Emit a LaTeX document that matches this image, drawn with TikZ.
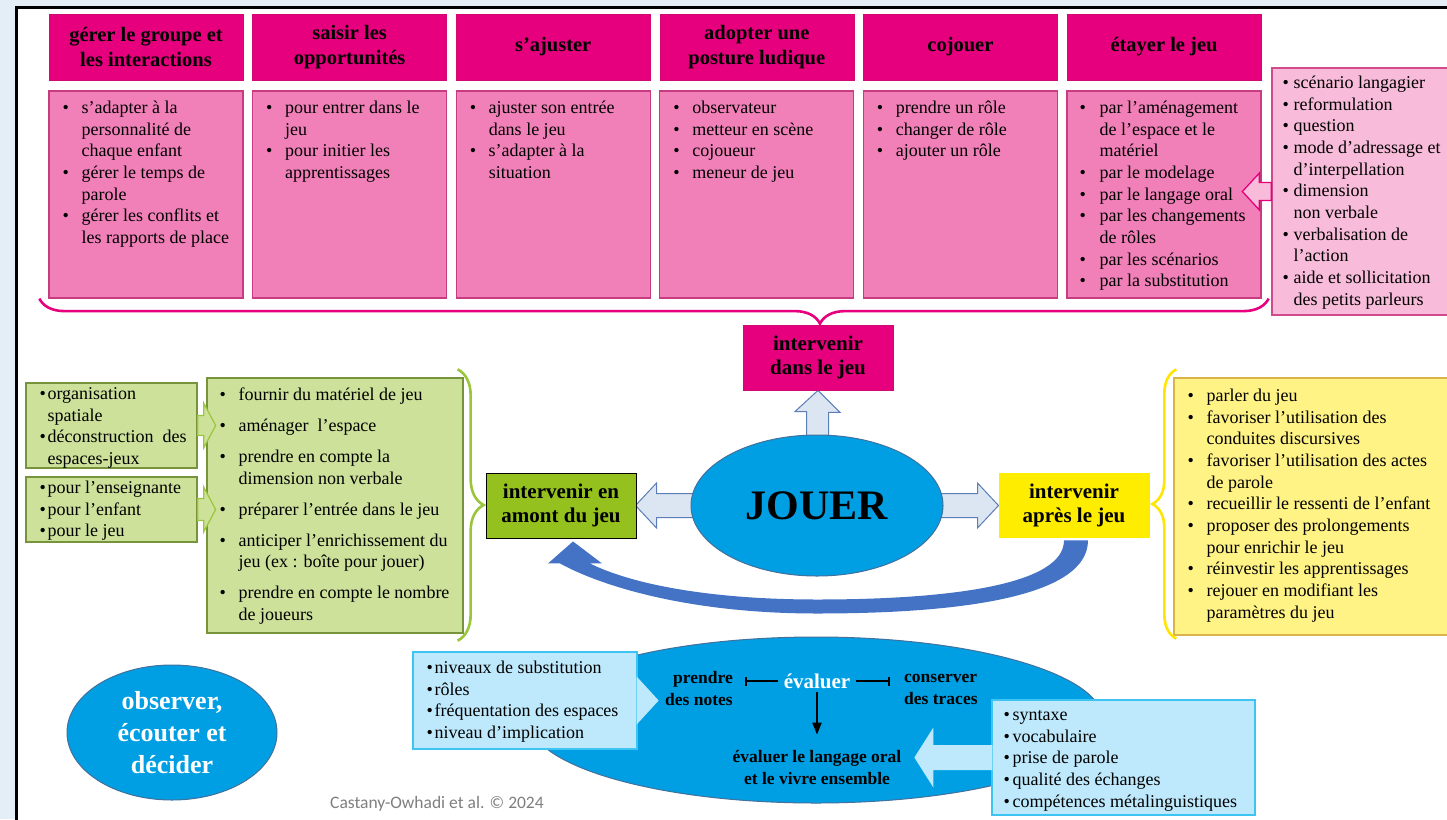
\documentclass[tikz,border=0pt]{standalone}
\usepackage{fontspec}
\setmainfont{Liberation Serif}
\newfontfamily\creditfont{Carlito}
\usepackage{tikz}
\usetikzlibrary{arrows.meta,positioning,decorations.pathreplacing,calc,shapes.geometric}
\usepackage{xcolor}
\definecolor{magF}{HTML}{E6007E}
\definecolor{magD}{HTML}{CF0A72}
\definecolor{pinkF}{HTML}{F180B9}
\definecolor{pinkB}{HTML}{C73B80}
\definecolor{pinkL}{HTML}{F8BCDA}
\definecolor{pinkLB}{HTML}{D14A8E}
\definecolor{greenD}{HTML}{95C11F}
\definecolor{greenL}{HTML}{CDE19B}
\definecolor{greenB}{HTML}{77933C}
\definecolor{greenBr}{HTML}{9BC53A}
\definecolor{yelD}{HTML}{FFED00}
\definecolor{yelL}{HTML}{FFF385}
\definecolor{yelB}{HTML}{D9B44A}
\definecolor{yelBr}{HTML}{FFE500}
\definecolor{blueE}{HTML}{009FE3}
\definecolor{blueB}{HTML}{41719C}
\definecolor{arrL}{HTML}{DCE6F2}
\definecolor{arrB}{HTML}{5B7DB8}
\definecolor{curvBlue}{HTML}{4472C4}
\definecolor{lblueF}{HTML}{BEE9FC}
\definecolor{lblueB}{HTML}{3DC4F2}
\definecolor{bgBlue}{HTML}{E3EEF7}
\definecolor{creditGray}{HTML}{7F7F7F}

\pgfdeclarelayer{back}
\pgfdeclarelayer{mid}
\pgfsetlayers{back,mid,main}

\newcommand{\bul}[2][19pt]{\par\hangindent=#1\hangafter=1\noindent\makebox[#1][l]{\textbullet}#2\par}
\newcommand{\blist}[2][270pt]{\parbox[t]{#1}{\raggedright#2}}
\newcommand{\harrow}[6]{\draw[#1] (#2) ++(0,-#5) -- ++(#3,0) -- ++(0,{#5-#6}) -- ++(#4,#6) -- ++({-(#4)},#6) -- ++(0,{#5-#6}) -- ++({-(#3)},0) -- cycle;}

\tikzset{
  headbox/.style={draw=magD, line width=0.6pt, fill=magF, minimum width=194pt, minimum height=66pt, inner sep=1pt, align=center, font=\fontsize{20.5}{25}\selectfont\bfseries},
  bodybox/.style={draw=pinkB, line width=1.3pt, fill=pinkF, minimum width=194pt, minimum height=207pt},
  listtext/.style={anchor=base west, inner sep=0pt, font=\fontsize{18}{21.7}\selectfont},
  sidebox/.style={draw=pinkLB, line width=1.3pt, fill=pinkL, minimum width=185pt, minimum height=247pt},
  dansbox/.style={draw=magD, line width=0.8pt, fill=magF, minimum width=150pt, minimum height=65pt, align=center, font=\fontsize{21}{24}\selectfont\bfseries},
  amontbox/.style={draw=black, line width=0.9pt, fill=greenD, minimum width=150pt, minimum height=65pt, align=center, font=\fontsize{21}{24}\selectfont\bfseries},
  apresbox/.style={draw=yelD, line width=0.8pt, fill=yelD, minimum width=150pt, minimum height=64pt, align=center, font=\fontsize{21}{24}\selectfont\bfseries},
  jouerell/.style={ellipse, draw=blueB, line width=1pt, fill=blueE, minimum width=252pt, minimum height=141pt, inner sep=0pt, font=\fontsize{42}{48}\selectfont\bfseries},
  greenbox/.style={draw=greenB, line width=1.3pt, fill=greenL, minimum width=256pt, minimum height=255pt},
  smallgreen/.style={draw=greenB, line width=1.3pt, fill=greenL, minimum width=171pt},
  yelbox/.style={draw=yelB, line width=1.3pt, fill=yelL, minimum width=280pt, minimum height=257pt},
  bigell/.style={ellipse, draw=blueB, line width=1pt, fill=blueE, minimum width=574pt, minimum height=166pt, inner sep=0pt},
  obsell/.style={ellipse, draw=blueB, line width=1pt, fill=blueE, minimum width=210pt, minimum height=135pt, inner sep=0pt, align=center, text=white, font=\fontsize{26}{32}\selectfont\bfseries},
  lbluebox/.style={draw=lblueB, line width=1.3pt, fill=lblueF},
  evaltext/.style={inner sep=0pt, text=white, font=\fontsize{21}{24}\selectfont\bfseries},
  notetext/.style={inner sep=0pt, font=\fontsize{17.5}{22}\selectfont\bfseries},
  credit/.style={inner sep=0pt, text=creditGray, font=\creditfont\fontsize{17.5}{20}\selectfont},
  lightarrow/.style={draw=arrB, line width=1pt, fill=arrL, line join=miter},
  pinkarrow/.style={draw=magF, line width=1.3pt, fill=pinkL},
  greenarrow/.style={draw=greenBr, line width=1.2pt, fill=greenL},
  lbluefill/.style={draw=none, fill=lblueF},
  curvarrow/.style={fill=curvBlue},
  evline/.style={line width=1.8pt, black},
  pinkbrace/.style={draw=magF, line width=2.6pt, decorate, decoration={brace, amplitude=25pt, aspect=0.635, mirror}},
  greenbrace/.style={draw=greenBr, line width=2.6pt, decorate, decoration={brace, amplitude=26pt, aspect=0.5}},
  yelbrace/.style={draw=yelBr, line width=2.6pt, decorate, decoration={brace, amplitude=24pt, aspect=0.5, mirror}}
}

\begin{document}
\begin{tikzpicture}[x=1pt, y=-1pt]
\useasboundingbox (0,0) rectangle (1447,819);
\clip (0,0) rectangle (1447,819);
\begin{pgfonlayer}{back}
  \fill[bgBlue] (0,0) rectangle (1447,819);
  \draw[line width=2.6pt, fill=white] (16.5,7.5) rectangle (1480,850);
\end{pgfonlayer}

\node[headbox] (h1) at (146,47) {gérer le groupe et\\les interactions};
\node[headbox, right=9pt of h1] (h2) {saisir les\\opportunités};
\node[headbox, right=9pt of h2] (h3) {s’ajuster};
\node[headbox, right=9pt of h3] (h4) {adopter une\\posture ludique};
\node[headbox, right=9pt of h4] (h5) {cojouer};
\node[headbox, right=9pt of h5] (h6) {étayer le jeu};

\node[bodybox, below=10pt of h1] (b1) {};
\node[bodybox, below=10pt of h2] (b2) {};
\node[bodybox, below=10pt of h3] (b3) {};
\node[bodybox, below=10pt of h4] (b4) {};
\node[bodybox, below=10pt of h5] (b5) {};
\node[bodybox, below=10pt of h6] (b6) {};

\node[listtext] (l1) at ($(b1.north west)+(14,23)$) {\blist{\bul{s’adapter à la\newline personnalité de\newline chaque enfant}\bul{gérer le temps de\newline parole}\bul{gérer les conflits et\newline les rapports de place}}};
\node[listtext] (l2) at ($(b2.north west)+(14,23)$) {\blist{\bul{pour entrer dans le\newline jeu}\bul{pour initier les\newline apprentissages}}};
\node[listtext] (l3) at ($(b3.north west)+(14,23)$) {\blist{\bul{ajuster son entrée\newline dans le jeu}\bul{s’adapter à la\newline situation}}};
\node[listtext] (l4) at ($(b4.north west)+(14,23)$) {\blist{\bul{observateur}\bul{metteur en scène}\bul{cojoueur}\bul{meneur de jeu}}};
\node[listtext] (l5) at ($(b5.north west)+(14,23)$) {\blist{\bul{prendre un rôle}\bul{changer de rôle}\bul{ajouter un rôle}}};
\node[listtext] (l6) at ($(b6.north west)+(13,23)$) {\blist{\bul[20pt]{par l’aménagement\newline de l’espace et le\newline matériel}\bul[20pt]{par le modelage}\bul[20pt]{par le langage oral}\bul[20pt]{par les changements\newline de rôles}\bul[20pt]{par les scénarios}\bul[20pt]{par la substitution}}};

\node[sidebox] (side) at (1364.5,191.5) {};
\node[listtext] (lside) at ($(side.north west)+(11,21)$) {\blist{\bul[11pt]{scénario langagier}\bul[11pt]{reformulation}\bul[11pt]{question}\bul[11pt]{mode d’adressage et\newline d’interpellation}\bul[11pt]{dimension\newline non verbale}\bul[11pt]{verbalisation de\newline l’action}\bul[11pt]{aide et sollicitation\newline des petits parleurs}}};
\harrow{pinkarrow}{side.west}{-12}{-17}{9}{18.5}

\draw[pinkbrace] ($(b1.south west)+(-9,0)$) -- ($(b6.south east)+(7,0)$);

\node[dansbox] (dans) at (818,357.5) {intervenir\\dans le jeu};
\node[jouerell] (jouer) at (817,505.5) {JOUER};
\node[amontbox] (amont) at (561,505.5) {intervenir en\\amont du jeu};
\node[apresbox] (apres) at (1074,505) {intervenir\\après le jeu};

\begin{pgfonlayer}{mid}
  \draw[lightarrow] ($(jouer.north)+(-10.5,6)$) -- ++(0,-29) -- ++(-11.5,0) -- (dans.south) -- ++(22,22) -- ++(-11.5,0) -- ++(0,29) -- cycle;
  \harrow{lightarrow}{$(jouer.west)+(8,0)$}{-42}{-21}{12}{22.5}
  \harrow{lightarrow}{$(jouer.east)+(-8,0)$}{42}{21}{12}{22.5}
\end{pgfonlayer}

\fill[curvarrow] ($(apres.south)+(14,3)$) .. controls +(0,55) and +(150,0) .. ($(jouer.south)+(0,37)$) .. controls +(-130,0) and +(40,22) .. ($(amont.south)+(-1,25)$) -- ++(-12,0) -- ($(amont.south)+(12,3)$) -- ($(amont.south)+(41,25)$) -- ++(-12,0) .. controls +(40,20) and +(-110,0) .. ($(jouer.south)+(0,23)$) .. controls +(130,0) and +(0,45) .. ($(apres.south)+(-10,3)$) -- cycle;

\node[greenbox] (gbig) at (335,505.5) {};
\node[listtext] (lgbig) at ($(gbig.north west)+(13,23)$) {\blist{\setlength{\parskip}{9.3pt}\bul{fournir du matériel de jeu}\bul{aménager\ \ l’espace}\bul{prendre en compte la\newline dimension non verbale}\bul{préparer l’entrée dans le jeu}\bul{anticiper l’enrichissement du\newline jeu (ex : boîte pour jouer)}\bul{prendre en compte le nombre\newline de joueurs}}};
\node[smallgreen, minimum height=85pt] (gs1) at (111.5,425.5) {};
\node[smallgreen, minimum height=65pt] (gs2) at (111.5,509.5) {};
\node[listtext] (lgs1) at ($(gs1.north west)+(14,17)$) {\blist{\bul[8pt]{organisation\newline spatiale}\bul[8pt]{déconstruction\ \ des\newline espaces-jeux}}};
\node[listtext] (lgs2) at ($(gs2.north west)+(14,17)$) {\blist{\bul[8pt]{pour l’enseignante}\bul[8pt]{pour l’enfant}\bul[8pt]{pour le jeu}}};
\harrow{greenarrow}{gs1.east}{6}{12}{10}{22.5}
\harrow{greenarrow}{gs2.east}{6}{12}{11}{22.5}
\draw[greenbrace] ($(gbig.north east)+(-6,-8)$) -- ($(gbig.south east)+(-6,7)$);

\node[yelbox] (ybox) at (1314,506.5) {};
\node[listtext] (lybox) at ($(ybox.north west)+(14,24)$) {\blist{\bul{parler du jeu}\bul{favoriser l’utilisation des\newline conduites discursives}\bul{favoriser l’utilisation des actes\newline de parole}\bul{recueillir le ressenti de l’enfant}\bul{proposer des prolongements\newline pour enrichir le jeu}\bul{réinvestir les apprentissages}\bul{rejouer en modifiant les\newline paramètres du jeu}}};
\draw[yelbrace] ($(ybox.north west)+(3,-8)$) -- ($(ybox.south west)+(3,3)$);

\node[bigell] (ev) at (816,720) {};
\node[evaltext] (evl) at (817,681) {évaluer};
\node[notetext, anchor=east, align=right] (notes) at (733,689) {prendre\\des notes};
\node[notetext, anchor=west, align=left] (traces) at (904,689) {conserver\\des traces};
\node[notetext, align=center] (lang) at (817,767) {évaluer le langage oral\\et le vivre ensemble};
\draw[evline, shorten <=6pt, shorten >=12pt, -{Bar[width=9pt]}] (evl.west) -- (evl.west -| notes.east);
\draw[evline, shorten <=6pt, shorten >=14pt, -{Bar[width=9pt]}] (evl.east) -- (evl.east -| traces.west);
\draw[evline, shorten <=3pt, shorten >=15pt, -{Triangle[width=9pt,length=12pt]}] (evl.south) -- (lang.north);

\node[lbluebox, minimum width=224pt, minimum height=97pt] (lbl) at (525,700.5) {};
\node[listtext] (llbl) at ($(lbl.north west)+(14,22)$) {\blist{\bul[8pt]{niveaux\ de substitution}\bul[8pt]{rôles}\bul[8pt]{fréquentation\ des espaces}\bul[8pt]{niveau d’implication}}};
\fill[lbluefill] ($(lbl.east)+(-1,-24)$) -- ($(lbl.east)+(21,0)$) -- ($(lbl.east)+(-1,24)$) -- cycle;

\node[lbluebox, minimum width=263pt, minimum height=115pt] (rbl) at (1123.5,757.5) {};
\node[listtext] (lrbl) at ($(rbl.north west)+(12,21)$) {\blist{\bul[9pt]{syntaxe}\bul[9pt]{vocabulaire}\bul[9pt]{prise de parole}\bul[9pt]{qualité des échanges}\bul[9pt]{compétences\ métalinguistiques}}};
\harrow{lbluefill}{$(rbl.west)+(1,0)$}{-59}{-19}{12.5}{30}

\node[obsell] (obs) at (172,732.5) {observer,\\écouter et\\décider};
\node[credit] (cred) at (437,804) {Castany-Owhadi et al. © 2024};
\end{tikzpicture}
\end{document}
